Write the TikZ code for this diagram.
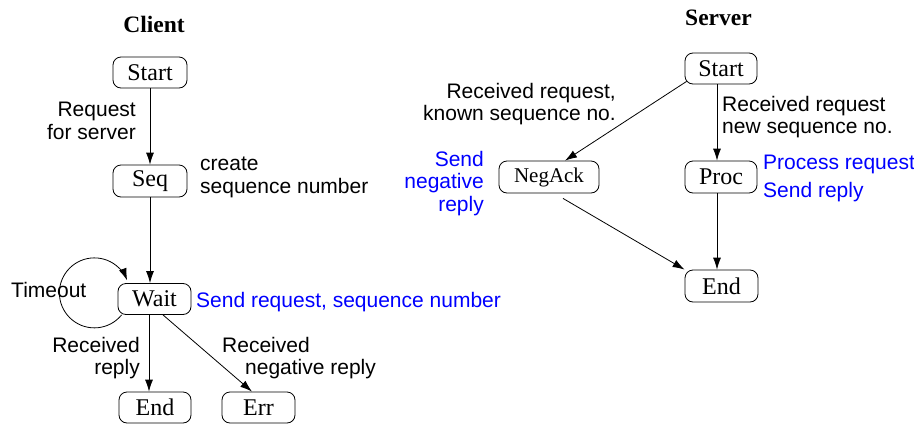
\documentclass[tikz,border=0pt]{standalone}
\usepackage{fontspec}
\setmainfont{Liberation Serif}
\setsansfont{Liberation Sans}
\usetikzlibrary{arrows.meta}
\begin{document}
\begin{tikzpicture}[x=1pt,y=1pt,
  state/.style={draw, rounded corners=8pt, minimum width=73pt, minimum height=31pt, inner sep=0pt, line width=0.8pt, font=\fontsize{24}{26}\selectfont},
  arr/.style={-{Latex[length=12pt,width=8pt]}, line width=0.8pt},
  lab/.style={inner sep=0pt, font=\sffamily\fontsize{21}{22.5}\selectfont},
  act/.style={lab, text=blue},
  title/.style={inner sep=0pt, font=\bfseries\fontsize{23.5}{26}\selectfont}]
\useasboundingbox (0,0) rectangle (914,-426);

% titles
\node[title, anchor=base] (ctitle) at (154,-32) {Client};
\node[title, anchor=base] (stitle) at (718.5,-25) {Server};

% client states
\node[state, minimum width=74pt] (cstart) at (150,-72.5) {Start};
\node[state, minimum width=74pt, minimum height=32pt] (seq) at (150,-181) {Seq};
\node[state] (wait) at (154.5,-299) {Wait};
\node[state, minimum width=72pt] (cend) at (155,-407.5) {End};
\node[state] (err) at (258.5,-407.5) {Err};

% server states
\node[state, minimum width=72pt] (sstart) at (721,-68.5) {Start};
\node[state, minimum width=100pt, minimum height=32pt, font=\fontsize{21}{23}\selectfont] (negack) at (549,-177) {NegAck};
\node[state, minimum width=72pt, minimum height=32pt] (proc) at (721,-177) {Proc};
\node[state, minimum height=32pt] (send) at (721.5,-286) {End};

% client labels
\node[lab, anchor=north east, align=right] (l1) at (136,-102) {Request\\for server};
\node[lab, anchor=north west, align=left] (l2) at (200,-157) {create\\sequence number};
\node[act, anchor=base west] (l3) at (196,-307) {Send request, sequence number};
\node[lab, anchor=base west] (l4) at (11,-297) {Timeout};
\node[lab, anchor=north east, align=right] (l5) at (140,-337) {Received\\reply};
\node[lab, anchor=north west, align=left] (l6) at (222,-337) {Received\\\hspace*{23pt}negative reply};

% server labels
\node[lab, anchor=north east, align=right] (l7) at (616,-83) {Received request,\\known sequence no.};
\node[lab, anchor=north west, align=left] (l8) at (722,-96) {Received request\\new sequence no.};
\node[act, anchor=north east, align=right] (l9) at (484,-151) {Send\\negative\\reply};
\node[act, anchor=north west, align=left] (l10) at (763,-155) {Process request\\[5pt]Send reply};

% client edges
\draw[arr] (cstart) -- (seq);
\draw[arr] (seq.south) -- (seq.south |- wait.north);
\draw[arr] ([xshift=-5.5pt]wait.south) -- ([xshift=-5.5pt]wait.south |- cend.north);
\draw[arr] ([xshift=8.5pt]wait.south) -- ([xshift=-6.5pt]err.north);
\draw[arr] ([xshift=4pt]wait.south west) arc[start angle=-39, end angle=-339, radius=35pt];

% server edges
\draw[arr] ([shift={(2pt,3pt)}]sstart.south west) -- ([xshift=16pt]negack.north);
\draw[arr] ([xshift=-4pt]sstart.south) -- ([xshift=-4pt]sstart.south |- proc.north);
\draw[arr] ([xshift=-4pt]proc.south) -- ([xshift=-4pt]proc.south |- send.north);
\draw[arr] ([shift={(14pt,-5pt)}]negack.south) -- (send.north west);
\end{tikzpicture}
\end{document}
